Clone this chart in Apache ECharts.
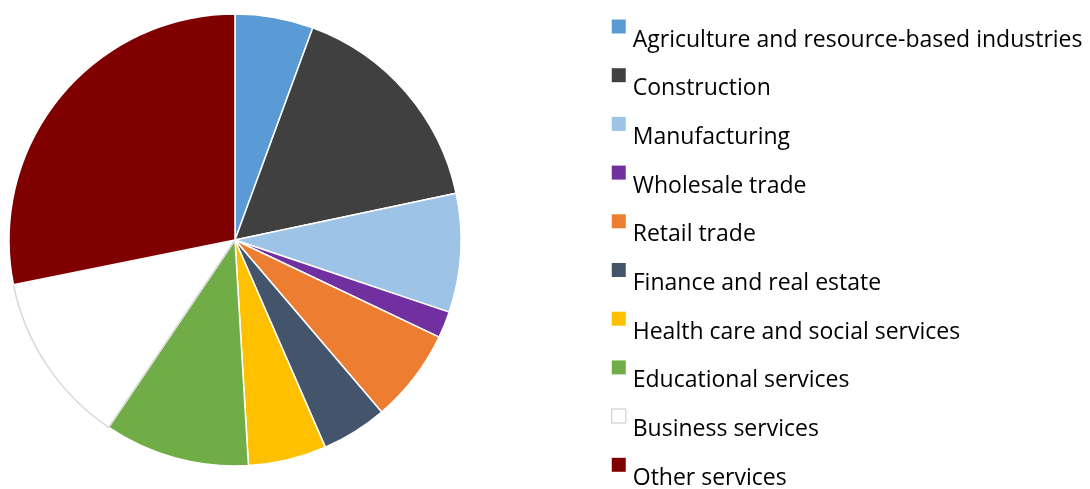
<!DOCTYPE html>
<html>
<head>
<meta charset="utf-8">
<script src="https://cdn.jsdelivr.net/npm/echarts@6/dist/echarts.min.js"></script>
<style>
  html, body { margin: 0; padding: 0; background: #fff; }
  #chart { width: 1090px; height: 489px; }
</style>
</head>
<body>
<div id="chart"></div>
<script>
var sectors = ['Agriculture and resource-based industries', 'Construction', 'Manufacturing',
  'Wholesale trade', 'Retail trade', 'Finance and real estate', 'Health care and social services',
  'Educational services', 'Business services', 'Other services'];
var shares = [5.6, 16.1, 8.5, 1.9, 6.7, 4.7, 5.6, 10.4, 12.4, 28.2];
var colors = ['#5b9bd5', '#404040', '#9dc3e6', '#7030a0', '#ed7d31', '#44546a',
  '#ffc000', '#70ad47', '#ffffff', '#800000'];

var pieData = [];
for (var i = 0; i < sectors.length; i++) {
  var item = { name: sectors[i], value: shares[i], itemStyle: { color: colors[i] } };
  if (colors[i] == '#ffffff') {
    // white slice gets a faint grey edge, like the original
    item.itemStyle.borderColor = '#d9d9d9';
  }
  pieData.push(item);
}

var myChart = echarts.init(document.getElementById('chart'));
myChart.setOption({
  animation: false,
  legend: {
    orient: 'vertical',
    left: 611,
    top: 1.5,
    height: 560,
    padding: 0,
    itemWidth: 14,
    itemHeight: 14,
    itemGap: -1.3,
    selectedMode: false,
    icon: 'rect',
    formatter: function (name) { return '{t|' + name + '}'; },
    textStyle: {
      rich: {
        t: {
          fontFamily: 'Open Sans',
          fontSize: 23,
          color: '#000',
          lineHeight: 28,
          padding: [27, 0, 0, 2]
        }
      }
    },
    data: sectors.map(function (s, k) {
      if (colors[k] == '#ffffff') {
        return { name: s, itemStyle: { color: '#ffffff', borderColor: '#d9d9d9', borderWidth: 1.5 } };
      }
      return { name: s, itemStyle: { color: colors[k], borderWidth: 0 } };
    })
  },
  series: [{
    type: 'pie',
    center: [235, 240],
    radius: 226,
    startAngle: 90,
    clockwise: true,
    label: { show: false },
    labelLine: { show: false },
    emphasis: { disabled: true },
    itemStyle: { borderColor: '#ffffff', borderWidth: 1.5 },
    data: pieData
  }]
});
</script>
</body>
</html>
